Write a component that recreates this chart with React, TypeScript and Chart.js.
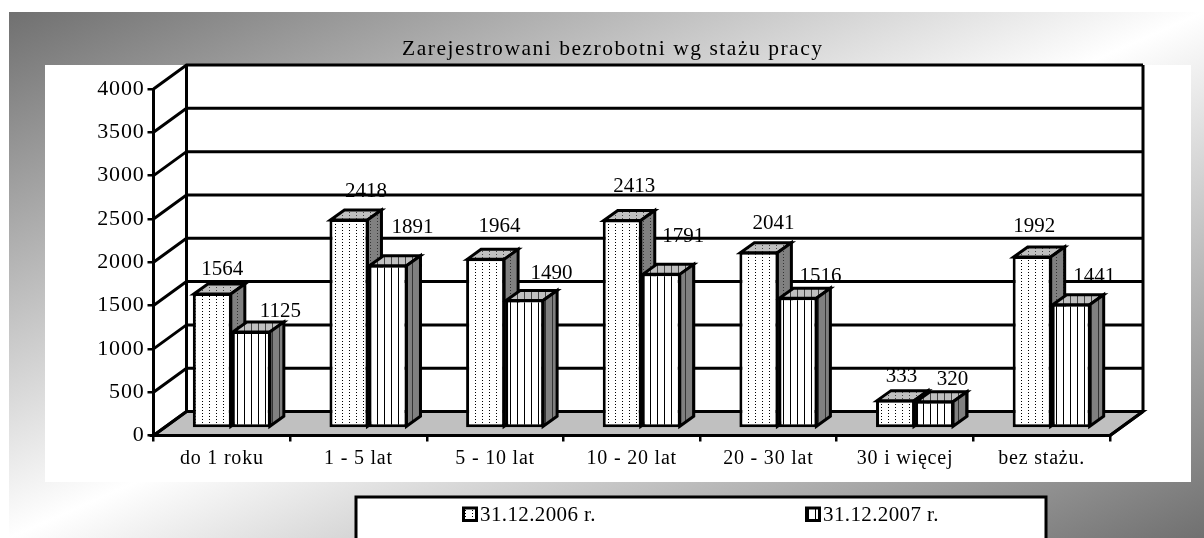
import React, { useEffect, useRef } from "react";
import { Chart, registerables } from "chart.js";

Chart.register(...registerables);

const categories = ["do 1 roku", "1 - 5 lat", "5 - 10 lat", "10 - 20 lat", "20 - 30 lat", "30 i więcej", "bez stażu."];
const seriesNames = ["31.12.2006 r.", "31.12.2007 r."];
const values2006 = [1564, 2418, 1964, 2413, 2041, 333, 1992];
const values2007 = [1125, 1891, 1490, 1791, 1516, 320, 1441];
const titleText = "Zarejestrowani bezrobotni wg stażu pracy";

// label nudges relative to each bar's top centre, as laid out in the source
const nudgeX2006 = [10, 17, 14, 12, 14.7, 6, 2];
const nudgeY2006 = [-24, -28, -32, -33, -28, -23, -29];
const nudgeX2007 = [29, 24.5, 27, 22, 22.7, 18, 23];
const nudgeY2007 = [-20, -37, -26, -37, -20.5, -21, -27];

const FONT = '"Liberation Serif", serif';
const WALL_DX = 33, WALL_DY = -24;
const BAR_SHIFT_X = 10, BAR_SHIFT_Y = -7;
const BAR_DX = 14, BAR_DY = -10;

function tile(kind: "dots" | "stripes", base: string, ink: string) {
  const c = document.createElement("canvas");
  c.width = 7;
  c.height = kind === "dots" ? 3 : 1;
  const g = c.getContext("2d")!;
  g.fillStyle = base;
  g.fillRect(0, 0, c.width, c.height);
  g.fillStyle = ink;
  g.fillRect(3, 0, 1, 1);
  return g.createPattern(c, "repeat")!;
}

function poly(ctx: CanvasRenderingContext2D, pts: number[][], fill: any) {
  ctx.beginPath();
  pts.forEach((p, i) => (i ? ctx.lineTo(p[0], p[1]) : ctx.moveTo(p[0], p[1])));
  ctx.closePath();
  ctx.fillStyle = fill;
  ctx.fill();
  ctx.stroke();
}

function fitText(ctx: CanvasRenderingContext2D, text: string, x0: number, x1: number, y: number) {
  ctx.letterSpacing = "0px";
  const natural = ctx.measureText(text).width;
  const spacing = (x1 - x0 - natural) / (text.length - 1);
  ctx.letterSpacing = spacing + "px";
  ctx.textAlign = "left";
  ctx.textBaseline = "middle";
  ctx.fillText(text, x0, y);
  ctx.letterSpacing = "0px";
}

export default function App() {
  const ref = useRef<HTMLCanvasElement>(null);
  useEffect(() => {
    const faces = [tile("dots", "#ffffff", "#000000"), tile("stripes", "#ffffff", "#000000")];
    const tops = [tile("dots", "#c0c0c0", "#444444"), tile("stripes", "#c0c0c0", "#444444")];
    const sides = [tile("dots", "#808080", "#333333"), tile("stripes", "#808080", "#333333")];

    const scene = {
      id: "scene",
      beforeDraw(chart: any) {
        const { ctx, chartArea: a, scales } = chart;
        const W = chart.width, H = chart.height;
        ctx.save();
        ctx.fillStyle = "#ffffff";
        ctx.fillRect(0, 0, W, H);
        const x0 = 9, y0 = 12, w = W - x0, h = H - y0;
        const n = Math.hypot(w, h);
        const dx = h / n, dy = w / n;
        const cx = x0 + w / 2, cy = y0 + h / 2;
        const L = (w / 2) * dx + (h / 2) * dy;
        const g = ctx.createLinearGradient(cx - dx * L, cy - dy * L, cx + dx * L, cy + dy * L);
        g.addColorStop(0, "#707070");
        g.addColorStop(0.5, "#ffffff");
        g.addColorStop(1, "#707070");
        ctx.fillStyle = g;
        ctx.fillRect(x0, y0, w, h);
        ctx.fillStyle = "#ffffff";
        ctx.fillRect(45, 65, 1146, 417);

        // back wall, side wall and floor
        ctx.strokeStyle = "#000000";
        ctx.lineWidth = 3;
        ctx.lineJoin = "miter";
        const y = scales.y;
        const bottom = y.getPixelForValue(0);
        poly(ctx, [
          [a.left, bottom],
          [a.left + WALL_DX, bottom + WALL_DY],
          [a.right + WALL_DX, bottom + WALL_DY],
          [a.right, bottom],
        ], "#c0c0c0");
        y.ticks.forEach((t: any) => {
          const py = y.getPixelForValue(t.value);
          ctx.beginPath();
          ctx.moveTo(a.left, py);
          ctx.lineTo(a.left + WALL_DX, py + WALL_DY);
          ctx.lineTo(a.right + WALL_DX, py + WALL_DY);
          ctx.stroke();
        });
        const top = y.getPixelForValue(4000) + WALL_DY;
        ctx.beginPath();
        ctx.moveTo(a.left + WALL_DX, top);
        ctx.lineTo(a.left + WALL_DX, bottom + WALL_DY);
        ctx.moveTo(a.right + WALL_DX, top);
        ctx.lineTo(a.right + WALL_DX, bottom + WALL_DY);
        ctx.moveTo(a.right + WALL_DX, bottom + WALL_DY);
        ctx.lineTo(a.right, bottom);
        ctx.stroke();
        ctx.restore();
        ctx.letterSpacing = "0.8px";
      },
      beforeDatasetsDraw(chart: any) {
        const { ctx } = chart;
        ctx.letterSpacing = "0px";
        ctx.save();
        ctx.translate(BAR_SHIFT_X, BAR_SHIFT_Y);
        ctx.strokeStyle = "#000000";
        ctx.lineWidth = 3;
        ctx.lineJoin = "miter";
        [0, 1].forEach((d) => {
          chart.getDatasetMeta(d).data.forEach((b: any) => {
            const l = b.x - b.width / 2 + 1, r = b.x + b.width / 2 - 1;
            const t = b.y + 1, base = b.base - 1;
            poly(ctx, [[l, t], [l + BAR_DX, t + BAR_DY], [r + BAR_DX, t + BAR_DY], [r, t]], tops[d]);
            poly(ctx, [[r, t], [r + BAR_DX, t + BAR_DY], [r + BAR_DX, base + BAR_DY], [r, base]], sides[d]);
          });
        });
        ctx.restore();
      },
      beforeDatasetDraw(chart: any) {
        chart.ctx.save();
        chart.ctx.translate(BAR_SHIFT_X, BAR_SHIFT_Y);
      },
      afterDatasetDraw(chart: any) {
        chart.ctx.restore();
      },
      afterDraw(chart: any) {
        const { ctx } = chart;
        ctx.save();
        ctx.fillStyle = "#000000";
        ctx.font = `21.5px ${FONT}`;
        fitText(ctx, titleText, 402, 822, 49);

        // value labels
        ctx.font = `21px ${FONT}`;
        ctx.textAlign = "center";
        ctx.textBaseline = "middle";
        const nx = [nudgeX2006, nudgeX2007], ny = [nudgeY2006, nudgeY2007];
        [0, 1].forEach((d) => {
          chart.getDatasetMeta(d).data.forEach((b: any, i: number) => {
            ctx.fillText(
              String(chart.data.datasets[d].data[i]),
              b.x + BAR_SHIFT_X + nx[d][i],
              b.y + BAR_SHIFT_Y + ny[d][i],
            );
          });
        });

        // legend box, cut by the picture's lower edge
        ctx.fillStyle = "#ffffff";
        ctx.strokeStyle = "#000000";
        ctx.lineWidth = 3;
        ctx.fillRect(356, 497, 690, 60);
        ctx.strokeRect(356, 497, 690, 60);
        const sx = [463.5, 806.5];
        [0, 1].forEach((d) => {
          ctx.lineWidth = 3;
          ctx.fillStyle = faces[d];
          ctx.fillRect(sx[d], 508, 13, 12.5);
          ctx.strokeRect(sx[d], 508, 13, 12.5);
          ctx.fillStyle = "#000000";
          ctx.font = `21px ${FONT}`;
          fitText(ctx, chart.data.datasets[d].label, sx[d] + 16.5, sx[d] + 132, 515);
        });
        ctx.restore();
      },
    };

    const common = {
      backgroundColor: "#ffffff", borderColor: "#000000", borderWidth: 3,
      borderSkipped: false, categoryPercentage: 0.571, barPercentage: 1,
    };
    const chart = new Chart(ref.current!, {
      type: "bar",
      data: {
        labels: categories,
        datasets: [
          { ...common, label: seriesNames[0], data: values2006, backgroundColor: faces[0] },
          { ...common, label: seriesNames[1], data: values2007, backgroundColor: faces[1] },
        ],
      },
      options: {
        responsive: false,
        animation: false,
        layout: { padding: { left: 0, top: 89, right: 94, bottom: 0 } },
        plugins: { legend: { display: false }, title: { display: false }, tooltip: { enabled: false } },
        scales: {
          x: {
            offset: true,
            grid: { offset: true, drawOnChartArea: false, drawTicks: true, tickLength: 6, color: "#000000", lineWidth: 2.5 },
            border: { display: true, color: "#000000", width: 3 },
            ticks: { color: "#000000", font: { family: FONT, size: 20 }, padding: 5, maxRotation: 0, autoSkip: false },
            afterFit: (s: any) => { s.height = 102.5; },
          },
          y: {
            min: 0, max: 4000,
            grid: { drawOnChartArea: false, drawTicks: true, tickLength: 6, color: "#000000", lineWidth: 2.5 },
            border: { display: true, color: "#000000", width: 3 },
            ticks: { stepSize: 500, color: "#000000", font: { family: FONT, size: 22 }, padding: 3, callback: (v: any) => String(v) },
            afterFit: (s: any) => { s.width = 153.5; },
          },
        },
      },
      plugins: [scene],
    } as any);
    return () => chart.destroy();
  }, []);
  return (
    <canvas
      ref={ref}
      width={1204}
      height={538}
      style={{ position: "absolute", left: 0, top: 0, width: 1204, height: 538, display: "block" }}
    />
  );
}
